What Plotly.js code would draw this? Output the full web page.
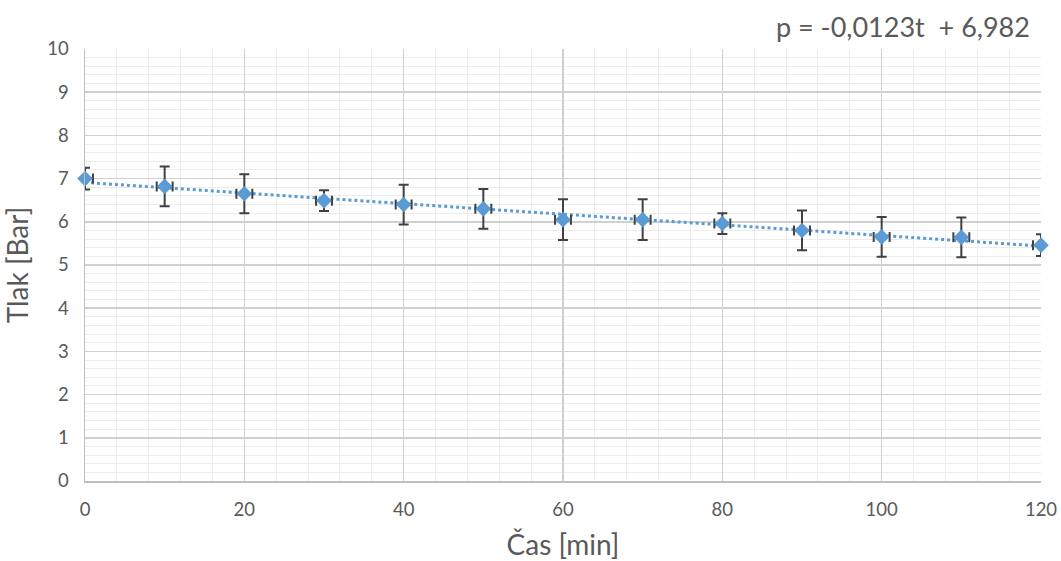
<!DOCTYPE html>
<html>
<head>
<meta charset="utf-8">
<script src="https://cdn.plot.ly/plotly-3.0.1.min.js"></script>
<style>html,body{margin:0;padding:0;background:#fff;}#chart{width:1061px;height:561px;}</style>
</head>
<body>
<div id="chart"></div>
<script>
// Data
const timeMin = [0, 10, 20, 30, 40, 50, 60, 70, 80, 90, 100, 110, 120];
const pressureBar = [7.0, 6.82, 6.65, 6.49, 6.4, 6.3, 6.05, 6.05, 5.96, 5.8, 5.65, 5.64, 5.46];
const pressureErr = [0.25, 0.46, 0.45, 0.24, 0.46, 0.46, 0.47, 0.47, 0.24, 0.46, 0.46, 0.46, 0.25];
const timeErr = [1, 1, 1, 1, 1, 1, 1, 1, 1, 1, 1, 1, 1];
const xTicks = [0, 20, 40, 60, 80, 100, 120];
const yTicks = [0, 1, 2, 3, 4, 5, 6, 7, 8, 9, 10];
const equationText = "p = -0,0123t\u00a0 + 6,982";

// least-squares trendline from the data
const n = timeMin.length;
const mx = timeMin.reduce((a, b) => a + b, 0) / n;
const my = pressureBar.reduce((a, b) => a + b, 0) / n;
let sxy = 0, sxx = 0;
for (let i = 0; i < n; i++) { sxy += (timeMin[i] - mx) * (pressureBar[i] - my); sxx += (timeMin[i] - mx) ** 2; }
const slope = sxy / sxx;
const intercept = my - slope * mx;
const trendX = [timeMin[0], timeMin[n - 1]];
const trendY = trendX.map(t => intercept + slope * t);

const blue = '#5b9bd5';
const txt = '#595959';
const font = 'Lato, "Open Sans", sans-serif';

const traces = [
  {
    x: trendX, y: trendY, mode: 'lines', type: 'scatter',
    line: {color: blue, width: 3, dash: 'dot'}, hoverinfo: 'skip', showlegend: false
  },
  {
    x: timeMin, y: pressureBar, mode: 'markers', type: 'scatter',
    marker: {symbol: 'diamond', size: 12, color: blue},
    error_y: {type: 'data', array: pressureErr, visible: true, color: '#404040', thickness: 2, width: 5},
    error_x: {type: 'data', array: timeErr, visible: true, color: '#404040', thickness: 2, width: 5},
    showlegend: false, cliponaxis: false
  }
];

const layout = {
  width: 1061, height: 561,
  margin: {l: 85, r: 20, t: 49, b: 80},
  paper_bgcolor: '#fff', plot_bgcolor: '#fff',
  font: {family: font, color: txt, size: 18},
  showlegend: false,
  xaxis: {
    range: [0, 120], tickvals: xTicks, ticks: '', showline: true, linecolor: '#bfbfbf', linewidth: 1.5,
    showgrid: true, gridcolor: '#d0d0d0', gridwidth: 1.5, zeroline: false,
    minor: {dtick: 4, showgrid: true, gridcolor: '#ececec', gridwidth: 1},
    tickfont: {size: 18.5, color: txt}, ticklabelstandoff: 11,
    title: {text: 'Čas [min]', font: {size: 28, color: txt}, standoff: 16}
  },
  yaxis: {
    range: [0, 10], tickvals: yTicks, ticks: '', showline: true, linecolor: '#bfbfbf', linewidth: 1.5,
    showgrid: true, gridcolor: '#d0d0d0', gridwidth: 1.5, zeroline: false,
    minor: {dtick: 0.2, showgrid: true, gridcolor: '#ececec', gridwidth: 1},
    tickfont: {size: 18.5, color: txt}, ticklabelstandoff: 11,
    title: {text: 'Tlak [Bar]', font: {size: 28, color: txt}, standoff: 12}
  },
  annotations: [{
    text: equationText, xref: 'paper', yref: 'paper', x: 0.9906, y: 1.051,
    xanchor: 'right', yanchor: 'middle', showarrow: false,
    font: {size: 27, color: txt, family: font}
  }]
};

Plotly.newPlot('chart', traces, layout, {displayModeBar: false, staticPlot: true});
</script>
</body>
</html>
